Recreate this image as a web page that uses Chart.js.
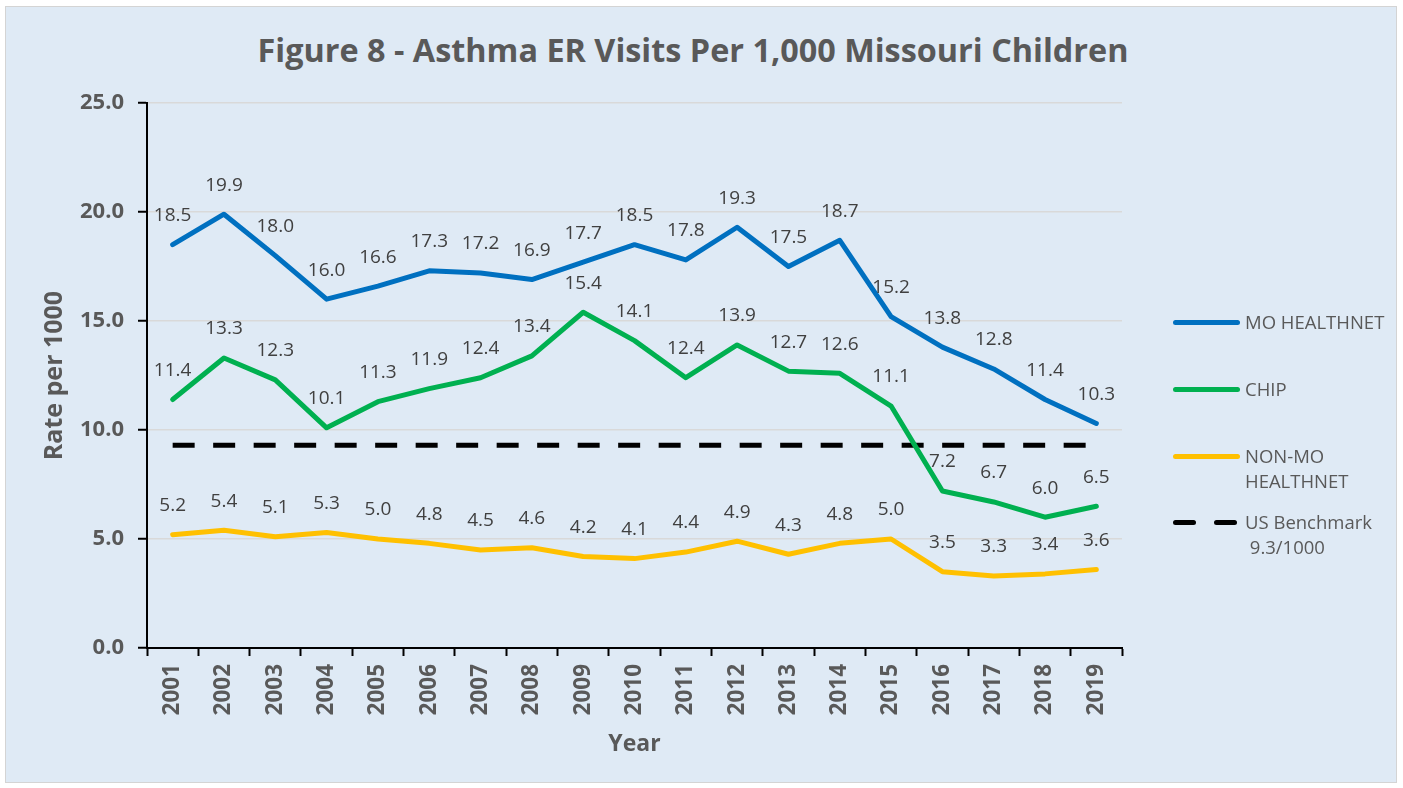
<!DOCTYPE html>
<html lang="en">
<head>
    <meta charset="UTF-8">
    <title>Figure 8 - Asthma ER Visits</title>
    <script src="https://cdn.jsdelivr.net/npm/chart.js@4.4.0/dist/chart.umd.min.js"></script>
    <style>
        body { margin: 0; background: #ffffff; font-family: "Open Sans", sans-serif; }
        #wrap { position: relative; width: 1403px; height: 788px; overflow: hidden; }
        #box { position: absolute; left: 5px; top: 6px; width: 1390px; height: 775px;
               background: #dfeaf5; border: 1px solid #d4d4d4; }
        #chartCanvas { position: absolute; left: 0; top: 0; }
        #title { position: absolute; left: 0; width: 1386px; top: 30px; text-align: center;
                 font-size: 32.4px; line-height: 38px; font-weight: bold; color: #595959; }
        .leg { position: absolute; left: 1173px; font-size: 18.5px; line-height: 25px; color: #595959; }
        .leg .swatch { position: absolute; left: 0; width: 67px; height: 5px; border-radius: 3px; }
        .leg .txt { position: absolute; left: 72px; white-space: nowrap; }
    </style>
</head>
<body>
<div id="wrap">
    <div id="box"></div>
    <div id="title">Figure 8 - Asthma ER Visits Per 1,000 Missouri Children</div>
    <canvas id="chartCanvas" width="1403" height="788"></canvas>

    <div class="leg" style="top:309px">
        <div class="swatch" style="top:11px; background:#0070c0"></div>
        <div class="txt">MO HEALTHNET</div>
    </div>
    <div class="leg" style="top:376px">
        <div class="swatch" style="top:11px; background:#00b050"></div>
        <div class="txt">CHIP</div>
    </div>
    <div class="leg" style="top:443px">
        <div class="swatch" style="top:11px; background:#ffc000"></div>
        <div class="txt">NON-MO<br>HEALTHNET</div>
    </div>
    <div class="leg" style="top:509px">
        <div class="swatch" style="top:11px; width:23px; background:#000"></div>
        <div class="swatch" style="top:11px; left:41px; width:23px; background:#000"></div>
        <div class="txt">US Benchmark<br>&nbsp;9.3/1000</div>
    </div>
</div>

<script>
    const years = ['2001', '2002', '2003', '2004', '2005', '2006', '2007', '2008', '2009', '2010',
        '2011', '2012', '2013', '2014', '2015', '2016', '2017', '2018', '2019'];

    const moHealthnet = [18.5, 19.9, 18.0, 16.0, 16.6, 17.3, 17.2, 16.9, 17.7, 18.5,
        17.8, 19.3, 17.5, 18.7, 15.2, 13.8, 12.8, 11.4, 10.3];

    const chip = [11.4, 13.3, 12.3, 10.1, 11.3, 11.9, 12.4, 13.4, 15.4, 14.1,
        12.4, 13.9, 12.7, 12.6, 11.1, 7.2, 6.7, 6.0, 6.5];

    const nonMoHealthnet = [5.2, 5.4, 5.1, 5.3, 5.0, 4.8, 4.5, 4.6, 4.2, 4.1,
        4.4, 4.9, 4.3, 4.8, 5.0, 3.5, 3.3, 3.4, 3.6];

    const usBenchmark = [9.3, 9.3, 9.3, 9.3, 9.3, 9.3, 9.3, 9.3, 9.3, 9.3,
        9.3, 9.3, 9.3, 9.3, 9.3, 9.3, 9.3, 9.3, 9.3];

    const yTicks = [0, 5, 10, 15, 20, 25];

    // draws the value above each point (no datalabels plugin offline)
    const valueLabels = {
        id: 'valueLabels',
        afterDatasetsDraw(chart) {
            const ctx = chart.ctx;
            ctx.save();
            ctx.font = '19px "Open Sans"';
            ctx.fillStyle = '#404040';
            ctx.textAlign = 'center';
            ctx.textBaseline = 'middle';
            chart.data.datasets.forEach((ds, i) => {
                if (!ds.showValues) return;
                chart.getDatasetMeta(i).data.forEach((pt, j) => {
                    ctx.fillText(ds.data[j].toFixed(1), pt.x, pt.y - 29);
                });
            });
            ctx.restore();
        }
    };

    function makeChart() {
        const ctx = document.getElementById('chartCanvas').getContext('2d');
        new Chart(ctx, {
            type: 'line',
            data: {
                labels: years,
                datasets: [
                    {
                        label: 'MO HEALTHNET',
                        data: moHealthnet,
                        borderColor: '#0070c0',
                        borderWidth: 5,
                        showValues: true
                    },
                    {
                        label: 'CHIP',
                        data: chip,
                        borderColor: '#00b050',
                        borderWidth: 5,
                        showValues: true
                    },
                    {
                        label: 'NON-MO HEALTHNET',
                        data: nonMoHealthnet,
                        borderColor: '#ffc000',
                        borderWidth: 5,
                        showValues: true
                    },
                    {
                        label: 'US Benchmark 9.3/1000',
                        data: usBenchmark,
                        borderColor: '#000000',
                        borderWidth: 5,
                        borderDash: [22, 18.5],
                        borderCapStyle: 'butt',
                        showValues: false
                    }
                ]
            },
            options: {
                responsive: false,
                animation: false,
                devicePixelRatio: 1,
                elements: {
                    point: { radius: 0, hoverRadius: 0 },
                    line: { tension: 0, borderJoinStyle: 'round', borderCapStyle: 'round' }
                },
                layout: {
                    padding: { left: 0, right: 281, top: 103, bottom: 20 }
                },
                plugins: {
                    legend: { display: false },
                    title: { display: false },
                    tooltip: { enabled: false }
                },
                scales: {
                    x: {
                        type: 'category',
                        offset: true,
                        grid: {
                            display: true,
                            offset: true,
                            drawOnChartArea: false,
                            drawTicks: true,
                            tickLength: 8,
                            tickColor: '#000000',
                            tickWidth: 2
                        },
                        border: { color: '#000000', width: 2 },
                        ticks: {
                            autoSkip: false,
                            minRotation: 90,
                            maxRotation: 90,
                            padding: 8,
                            color: '#595959',
                            font: { family: 'Open Sans', size: 22.5, weight: 'bold' }
                        },
                        title: {
                            display: true,
                            text: 'Year',
                            color: '#595959',
                            font: { family: 'Open Sans', size: 23, weight: 'bold' },
                            padding: { top: 0, bottom: 10 }
                        },
                        afterFit(scale) { scale.height = 120; }
                    },
                    y: {
                        min: 0,
                        max: 25,
                        afterBuildTicks(scale) {
                            scale.ticks = yTicks.map(v => ({ value: v }));
                        },
                        grid: {
                            color: '#d9d9d9',
                            lineWidth: 1.5,
                            tickColor: '#000000',
                            tickLength: 9,
                            tickWidth: 2
                        },
                        border: { color: '#000000', width: 2 },
                        ticks: {
                            padding: 14,
                            color: '#595959',
                            font: { family: 'Open Sans', size: 22, weight: 'bold' },
                            callback: v => Number(v).toFixed(1)
                        },
                        title: {
                            display: true,
                            text: 'Rate per 1000',
                            color: '#595959',
                            font: { family: 'Open Sans', size: 25, weight: 'bold' },
                            padding: { top: 40, bottom: 0 }
                        },
                        afterFit(scale) { scale.width = 147; }
                    }
                }
            },
            plugins: [valueLabels]
        });
    }

    window.onload = makeChart;
</script>
</body>
</html>
